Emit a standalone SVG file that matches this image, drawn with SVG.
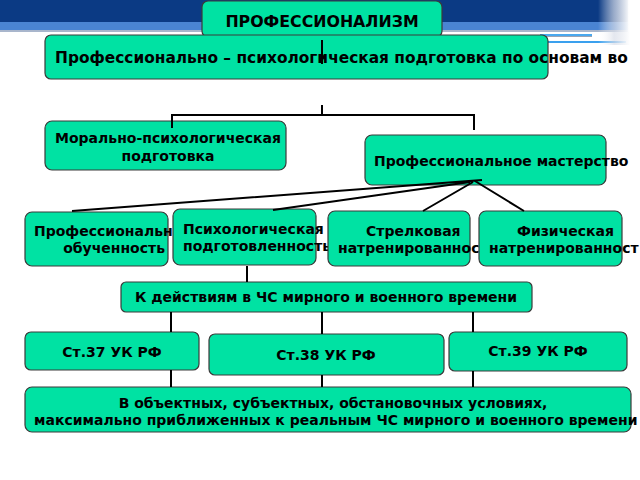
<svg xmlns="http://www.w3.org/2000/svg" width="640" height="480" viewBox="0 0 640 480">
<defs>
<linearGradient id="fade" x1="0" y1="0" x2="1" y2="0">
<stop offset="0" stop-color="#ffffff" stop-opacity="0"/>
<stop offset="0.5" stop-color="#d8dde8" stop-opacity="0.7"/>
<stop offset="1" stop-color="#ffffff" stop-opacity="1"/>
</linearGradient>
<style>
.box{fill:#00E2A3;stroke:#3a3a3a;stroke-width:1.2}
.t{font-family:"DejaVu Sans","Liberation Sans",sans-serif;font-weight:bold;font-size:14px;fill:#000}
.big{font-size:15.8px}
.c{text-anchor:middle}
.con{stroke:#000;stroke-width:2;fill:none}
</style>
</defs>
<g id="header">
<rect x="0" y="0" width="628" height="22" fill="#0b3a84"/>
<rect x="0" y="22" width="628" height="8" fill="#4a84d2"/>
<rect x="0" y="30" width="628" height="2" fill="#a9b6cc"/>
<rect x="540" y="34" width="52" height="2" fill="#4aa8ee"/>
<rect x="540" y="36" width="52" height="1" fill="#9aa4b4"/>
<rect x="540" y="41" width="86" height="2" fill="#3aa0ee"/>
<rect x="598" y="0" width="32" height="45" fill="url(#fade)"/>
</g>
<g id="n1"><rect class="box" x="202" y="1" width="240" height="36" rx="6"/><text class="t big c" x="322" y="27">ПРОФЕССИОНАЛИЗМ</text></g>
<g id="n2"><rect class="box" x="45" y="35" width="503" height="44" rx="6"/><text class="t" x="55" y="63" style="font-size:15.4px">Профессионально – психологическая подготовка по основам во</text></g>
<g id="n3"><rect class="box" x="45" y="121" width="241" height="49" rx="7"/><text class="t c" x="168" y="143">Морально-психологическая</text><text class="t c" x="168" y="161">подготовка</text></g>
<g id="n4"><rect class="box" x="365" y="135" width="241" height="50" rx="7"/><text class="t" x="374" y="166">Профессиональное мастерство</text></g>
<g id="n5"><rect class="box" x="25" y="212" width="143" height="54" rx="7"/><text class="t" x="34" y="236">Профессиональн</text><text class="t" x="165" y="253" text-anchor="end">обученность</text></g>
<g id="n6"><rect class="box" x="173" y="209" width="143" height="56" rx="7"/><text class="t" x="183" y="234">Психологическая</text><text class="t" x="183" y="251">подготовленность</text></g>
<g id="n7"><rect class="box" x="328" y="211" width="142" height="55" rx="7"/><text class="t" x="366" y="236">Стрелковая</text><text class="t" x="338" y="253">натренированност</text></g>
<g id="n8"><rect class="box" x="479" y="211" width="143" height="55" rx="7"/><text class="t" x="517" y="236">Физическая</text><text class="t" x="489" y="253">натренированност</text></g>
<g id="n9"><rect class="box" x="121" y="282" width="411" height="30" rx="5"/><text class="t c" x="326" y="302">К действиям в ЧС мирного и военного времени</text></g>
<g id="n10"><rect class="box" x="25" y="332" width="174" height="38" rx="6"/><text class="t c" x="112" y="357">Ст.37 УК РФ</text></g>
<g id="n11"><rect class="box" x="209" y="334" width="235" height="41" rx="6"/><text class="t c" x="326" y="360">Ст.38 УК РФ</text></g>
<g id="n12"><rect class="box" x="449" y="332" width="178" height="39" rx="6"/><text class="t c" x="538" y="356">Ст.39 УК РФ</text></g>
<g id="n13"><rect class="box" x="25" y="387" width="606" height="45" rx="7"/><text class="t c" x="333" y="408">В объектных, субъектных, обстановочных условиях,</text><text class="t" x="34" y="425">максимально приближенных к реальным ЧС мирного и военного времени</text></g>
<g id="connectors" class="con">
<path d="M322 40V64"/>
<path d="M322 105V115M171 115H475M172 115V128M474 115V130"/>
<path d="M482 180L72 211M470 182L273 210M473 182L423 211M475 181L524 211"/>
<path d="M247 266V282"/>
<path d="M171 312V332M322 312V334M473 312V332"/>
<path d="M171 370V387M322 375V387M473 371V387"/>
</g>
</svg>
